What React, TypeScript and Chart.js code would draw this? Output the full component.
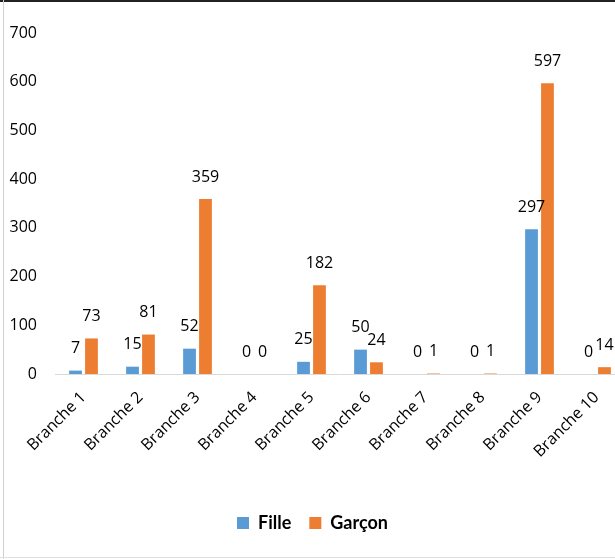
import React, { useEffect, useRef } from "react";
import { Chart, registerables } from "chart.js";
Chart.register(...registerables);

const categories = ["Branche 1", "Branche 2", "Branche 3", "Branche 4", "Branche 5", "Branche 6", "Branche 7", "Branche 8", "Branche 9", "Branche 10"];
const fille = [7, 15, 52, 0, 25, 50, 0, 0, 297, 0];
const garcon = [73, 81, 359, 0, 182, 24, 1, 1, 597, 14];
const yTicks = [0, 100, 200, 300, 400, 500, 600, 700];

const FONT = "'Open Sans', Lato, sans-serif";
const LEGEND_FONT = "Lato, 'Open Sans', sans-serif";

const valueLabels = {
  id: "valueLabels",
  afterDatasetsDraw(chart: any) {
    const ctx = chart.ctx;
    ctx.save();
    ctx.font = `16px ${FONT}`;
    ctx.fillStyle = "#000";
    ctx.textAlign = "center";
    ctx.textBaseline = "bottom";
    chart.data.datasets.forEach((ds: any, di: number) => {
      const meta = chart.getDatasetMeta(di);
      meta.data.forEach((bar: any, i: number) => {
        ctx.fillText(String(ds.data[i]), bar.x, bar.y - 14);
      });
    });
    ctx.restore();
  },
};

export default function App() {
  const ref = useRef<HTMLCanvasElement>(null);
  useEffect(() => {
    const chart = new Chart(ref.current!, {
      type: "bar",
      data: {
        labels: categories,
        datasets: [
          { label: "Fille", data: fille, backgroundColor: "#5B9BD5", categoryPercentage: 0.56, barPercentage: 0.8 },
          { label: "Garçon", data: garcon, backgroundColor: "#ED7D31", categoryPercentage: 0.56, barPercentage: 0.8 },
        ],
      },
      options: {
        animation: false,
        responsive: false,
        layout: { padding: { top: 33, left: 0, right: 0, bottom: 17 } },
        plugins: {
          tooltip: { enabled: false },
          legend: {
            position: "bottom",
            labels: {
              boxWidth: 12,
              boxHeight: 12,
              padding: 18,
              color: "#000",
              font: { family: LEGEND_FONT, size: 18, weight: "bold" },
            },
          },
        },
        scales: {
          x: {
            grid: { display: false, drawTicks: false },
            border: { display: true, color: "#D9D9D9", width: 1 },
            ticks: {
              color: "#000",
              font: { family: FONT, size: 16 },
              maxRotation: 45,
              minRotation: 45,
              padding: 14,
            },
            afterFit(scale: any) {
              scale.height = 122;
            },
          },
          y: {
            min: 0,
            max: 700,
            grid: { display: false, drawTicks: false },
            border: { display: false },
            afterBuildTicks(scale: any) {
              scale.ticks = yTicks.map((v) => ({ value: v }));
            },
            ticks: {
              color: "#000",
              font: { family: FONT, size: 16 },
              padding: 18,
            },
            afterFit(scale: any) {
              scale.width = 55;
            },
          },
        },
      },
      plugins: [valueLabels],
    });
    return () => chart.destroy();
  }, []);
  return (
    <div style={{ position: "fixed", left: 0, top: 0, width: 615, height: 559, overflow: "hidden", background: "#fff" }}>
      <canvas ref={ref} width={625} height={559} style={{ position: "absolute", left: 0, top: 0 }} />
      <div style={{ position: "absolute", left: 0, top: 0, width: 615, height: 2, background: "#222" }} />
      <div style={{ position: "absolute", left: 3, top: 0, width: 1, height: 559, background: "#D0D0D0" }} />
      <div style={{ position: "absolute", left: 0, top: 557, width: 615, height: 1, background: "#E0E0E0" }} />
    </div>
  );
}
